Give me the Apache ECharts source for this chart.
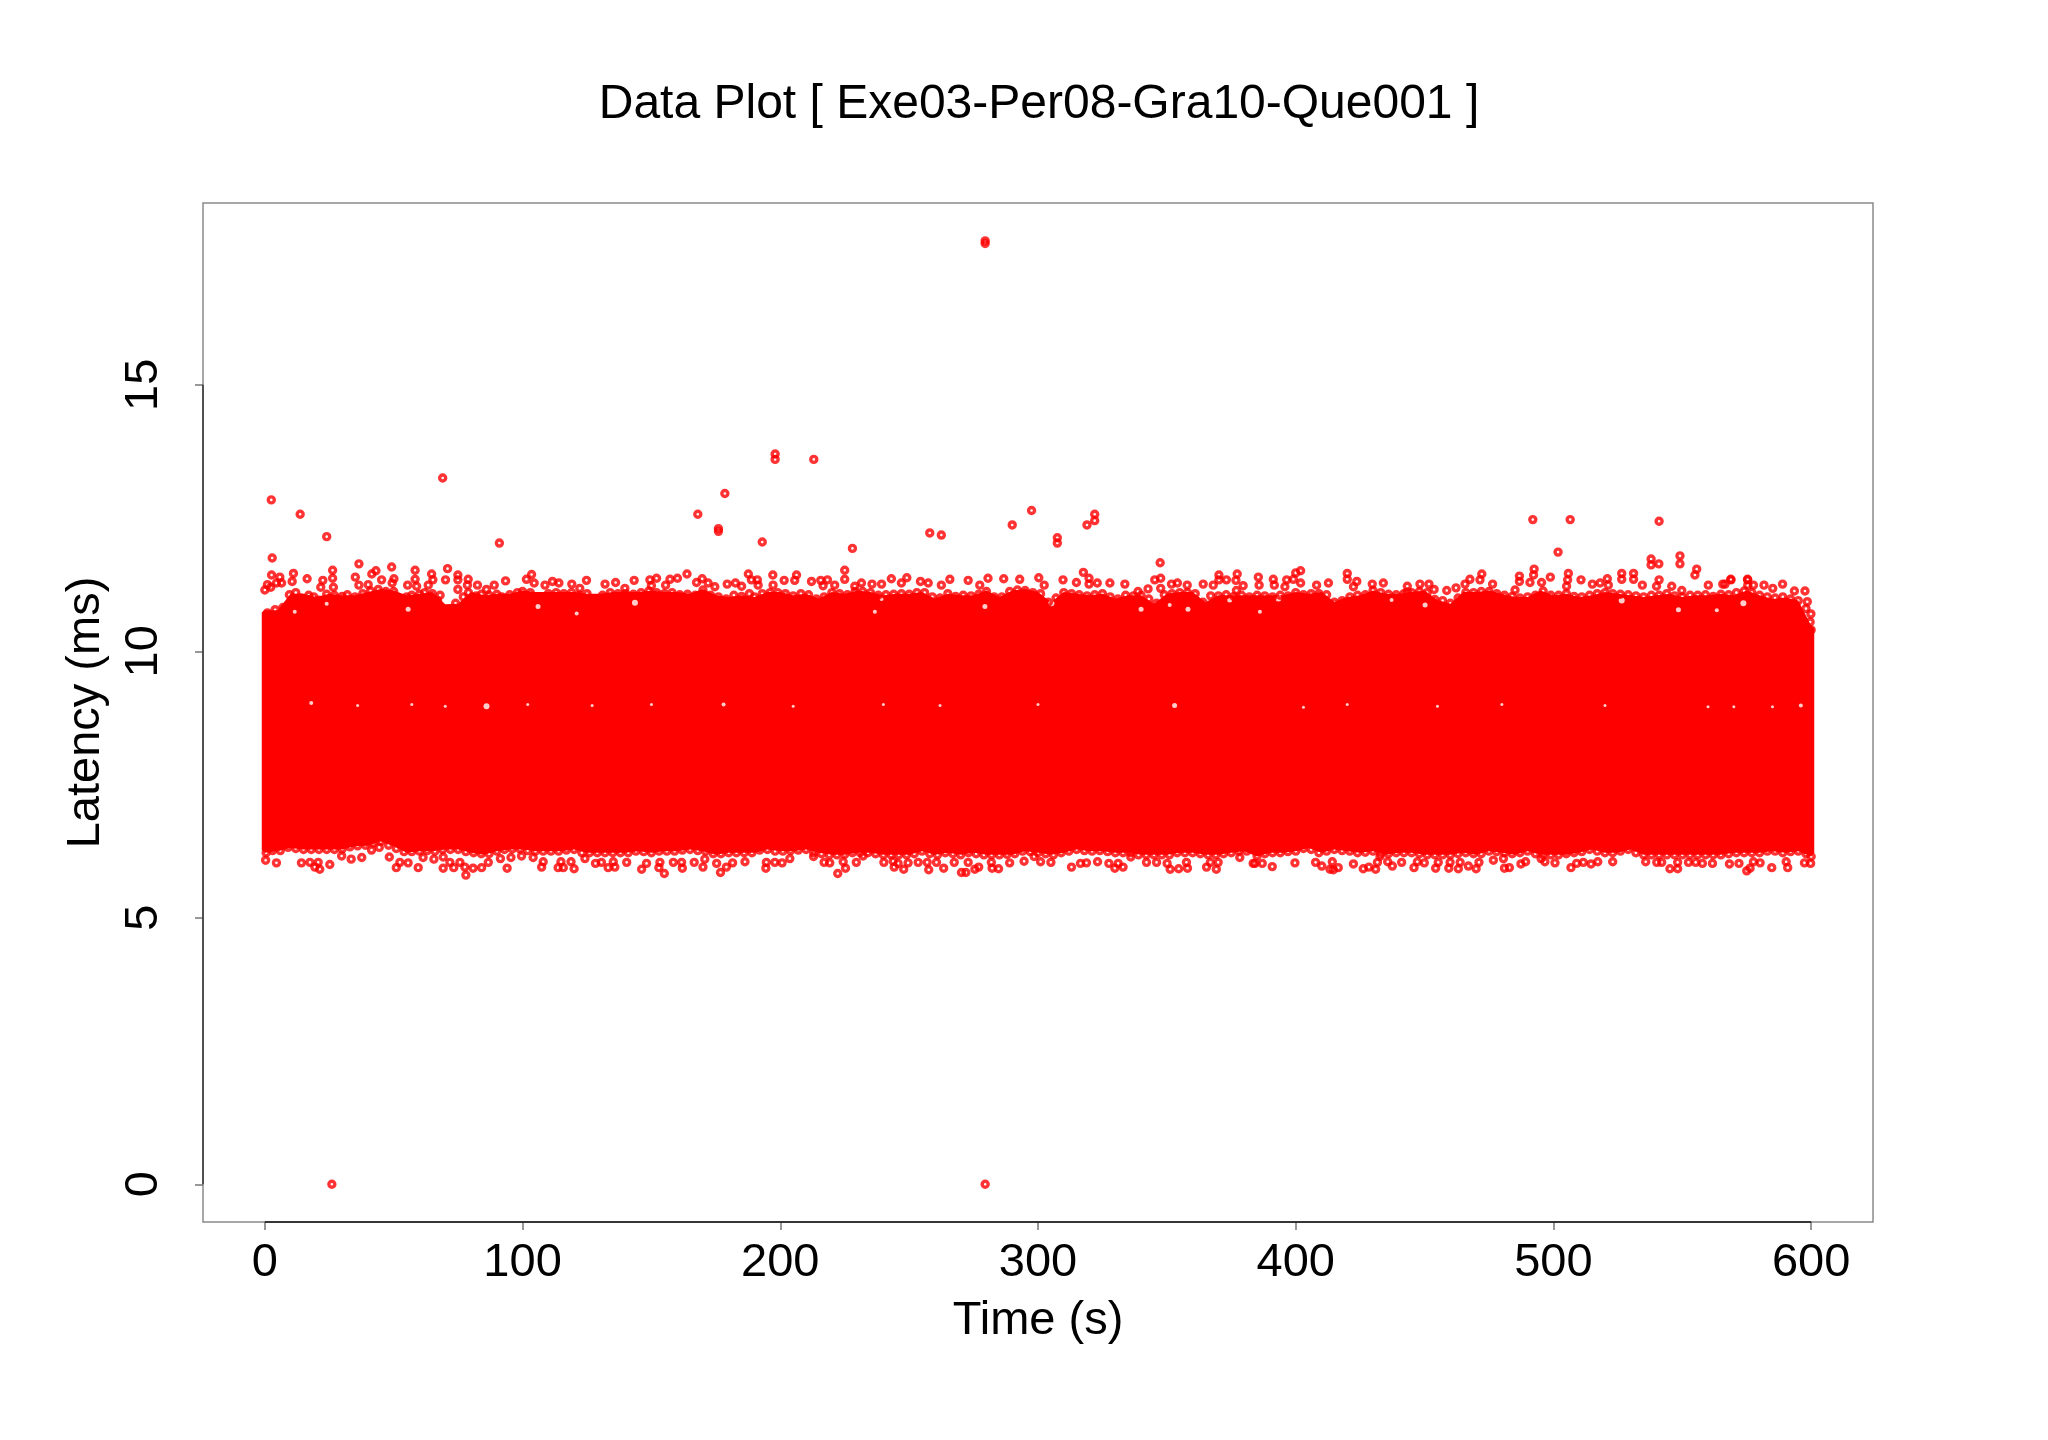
<!DOCTYPE html>
<html><head><meta charset="utf-8">
<style>html,body{margin:0;padding:0;background:#fff}#c{width:2048px;height:1440px}</style>
<script src="https://cdn.jsdelivr.net/npm/echarts@6/dist/echarts.min.js"></script>
</head><body><div id="c"></div>
<script>
const titleText = 'Data Plot [ Exe03-Per08-Gra10-Que001 ]';
const xName = 'Time (s)';
const yName = 'Latency (ms)';
const xTicks = [0,100,200,300,400,500,600];
const yTicks = [0,5,10,15];

// Outline of the solid red mass, read every 5 s
const bandTime = [-1.2,0,5,10,15,20,25,30,35,40,45,50,55,60,65,70,75,80,85,90,95,100,105,110,115,120,125,130,135,140,145,150,155,160,165,170,175,180,185,190,195,200,205,210,215,220,225,230,235,240,245,250,255,260,265,270,275,280,285,290,295,300,305,310,315,320,325,330,335,340,345,350,355,360,365,370,375,380,385,390,395,400,405,410,415,420,425,430,435,440,445,450,455,460,465,470,475,480,485,490,495,500,505,510,515,520,525,530,535,540,545,550,555,560,565,570,575,580,585,590,595,600,601.2];
const bandHigh = [10.8,10.84,10.84,11.15,11.15,11.09,11.15,11.12,11.12,11.18,11.24,11.21,11.12,11.15,11.18,10.95,10.96,11.18,11.12,11.15,11.15,11.21,11.18,11.18,11.18,11.18,11.15,11.15,11.18,11.18,11.18,11.21,11.18,11.18,11.15,11.24,11.12,11.09,11.12,
11.09,11.18,11.18,11.12,11.15,11.06,11.18,11.15,11.21,11.18,11.12,11.15,11.15,11.18,11.06,11.15,11.12,11.12,11.21,11.09,11.21,11.24,11.18,10.99,11.18,11.15,11.12,11.15,11.06,11.12,11.12,10.96,11.15,11.18,11.18,10.99,11.12,11.12,11.12,
11.12,11.12,11.12,11.18,11.15,11.18,11.0,11.09,11.12,11.21,11.15,11.15,11.18,11.21,11.03,10.96,11.18,11.18,11.21,11.15,11.09,11.09,11.21,11.12,11.15,11.09,11.12,11.18,11.15,11.12,11.09,11.12,11.15,11.09,11.12,11.12,11.15,11.12,11.21,11.12,11.05,11.08,11.02,10.55,10.5];
const bandLow = [6.2,6.15,6.18,6.24,6.21,6.21,6.21,6.21,6.27,6.28,6.36,6.27,6.15,6.18,6.18,6.21,6.21,6.15,6.11,6.18,6.21,6.21,6.18,6.18,6.18,6.21,6.15,6.15,6.15,6.15,6.18,6.15,6.18,6.18,6.21,6.18,6.11,6.15,6.15,
6.15,6.21,6.18,6.18,6.21,6.15,6.11,6.11,6.15,6.15,6.11,6.11,6.11,6.18,6.11,6.15,6.11,6.15,6.11,6.11,6.11,6.18,6.15,6.11,6.15,6.21,6.18,6.18,6.15,6.15,6.11,6.11,6.11,6.15,6.15,6.11,6.11,6.15,6.18,
6.08,6.15,6.15,6.18,6.24,6.15,6.21,6.18,6.15,6.18,6.11,6.15,6.15,6.11,6.11,6.11,6.15,6.11,6.18,6.15,6.11,6.18,6.11,6.11,6.11,6.15,6.21,6.15,6.15,6.21,6.11,6.11,6.11,6.11,6.11,6.11,6.11,6.15,6.15,6.15,6.18,6.15,6.18,6.08,6.15];
const bandInset = 0.07;

// Small white gaps left in the mass
const gapPoints = [[11.6,10.74],[24,10.89],[55.6,10.79],[106,10.84],[121,10.71],[143.6,10.91],[236.7,10.74],[239.3,10.98],[279.4,10.84],[305.2,10.9],[340,10.79],[351.1,10.87],[358.2,10.79],[374.4,10.96],[386.1,10.74],[393.3,10.99],[437.2,10.96],[450.2,10.87],[526.5,10.95],[548.5,10.78],[563.4,10.77],[573.7,10.9],
[18,9.03],[36,8.98],[57,9],[70,8.97],[86,8.97],[102,9],[127,8.98],[150,9],[178,9],[205,8.97],[240,9],[262,8.98],[300,9],[353,8.98],[403,8.95],[420,9],[455,8.97],[480,9],[520,8.98],[560,8.96],[570,8.96],[585,8.96],[596,8.98]];
const gapSizes = [4,4,5,5,4,6,4,4,5,6,5,4,5,5,4,6,4,5,6,5,4,6,
4,3,3,3,6,3,3,3,4,3,3,3,3,5,3,3,3,3,3,3,3,3,4];

const upperMassA = [[1,10.72],[4,10.78],[7,10.82],[9.5,11.06],[12,11.1],[14,11],[17,11.05],[19,11.02],[21,10.96],[24,11.07],[27,11.05],[30,11.03],[32,11.06],[35,11.02],[38,11.08],[41,11.13],[44,11.16],[47,11.12],[50,11.12],[52,10.95],[55,11.02],[57,11.05],[60,11.07],[62,11.1],[65,11.08],[68,11.05],[67,10.95],[74,10.9],[77,11.02],[79,11.1],[82,11.04],[84,11.07],[87,11.05],[90,11.07],[92,11.02],[95,11.06],[98,11.1],[100,11.12],[103,11.1],[107,10.97],[110,11.08],[113,11.1],[116,11.08],[119,11.1],[122,11.05],[125,11.08],[128,10.95],[131,11.05],[134,11.1],[137,11.08],[140,11.08],[143,11.07],[146,11.1],[149,11.13],[152,11.1],[155,11.08],[158,11.1],[161,11.06],[164,11.07],[167,11.05],[170,11.15],[173,11.05],[176,11.02],[179,10.98],[182,11.05],[185,11.03],[188,11.08]];
const upperMassB = [[190,11.02],[193,11.08],[196,11.1],[199,11.1],[202,11.08],[205,11.04],[208,11.08],[211,11.06],[214,10.98],[217,11.02],[220,11.1],[223,11.08],[226,11.06],[229,11.12],[232,11.12],[235,11.1],[238,11.05],[241,11.06],[244,11.07],[247,11.08],[250,11.07],[253,11.1],[256,11.1],[259,11.02],[262,11],[265,11.08],[268,11.03],[271,11.05],[274,11.04],[277,11.07],[280,11.12],[283,11.02],[286,11.02],[289,11.12],[292,11.15],[295,11.14],[298,11.1],[301,11.08],[304,10.92],[307,11],[310,11.1],[313,11.08],[316,11.06],[319,11.04],[322,11.06],[325,11.08],[328,11.02],[331,10.98],[334,11.05],[337,11.04],[340,11.05],[343,10.98],[346,10.9],[349,11.06],[352,11.08],[355,11.1],[358,11.1],[361,11.08],[364,10.92],[367,11.04],[370,11.04],[373,11.06],[376,11.03],[379,11.05],[382,11.02]];
const upperMassC = [[385,11.05],[388,11.04],[391,11.02],[394,11.05],[397,11.04],[400,11.1],[403,11.06],[406,11.08],[409,11.08],[412,11.06],[415,10.92],[418,10.95],[421,11.02],[424,11.05],[427,11.06],[430,11.14],[433,11.1],[436,11.07],[439,11.06],[442,11.08],[445,11.1],[448,11.12],[451,11.1],[454,10.97],[457,10.95],[460,10.9],[463,11],[466,11.1],[469,11.1],[472,11.12],[475,11.12],[478,11.08],[481,11.05],[484,11.03],[487,11],[490,11.02],[493,11.05],[496,11.13],[499,11.05],[502,11.05],[505,11.08],[508,11.03],[511,11.02],[514,11.05],[517,11.08],[520,11.1],[523,11.08],[526,11.07],[529,11.06],[532,11.04],[535,11.02],[538,11.05],[541,11.05],[544,11.08],[547,11.04],[550,11.02],[553,11.05],[556,11.05],[559,11.06],[562,11.03],[565,11.07],[568,11.06],[571,11.1],[574,11.13],[577,11.1],[580,11.05],[583,11.02],[586,11],[589,11.02],[592,10.98],[595,10.95],[598,10.8],[599.9,10.7],[600,10.4]];
const lowerMassA = [[0.5,6.22],[3,6.26],[6,6.26],[9,6.32],[12,6.3],[15,6.28],[18,6.28],[21,6.28],[24,6.28],[27,6.28],[30,6.29],[33,6.33],[36,6.35],[39,6.36],[42,6.4],[45,6.43],[48,6.36],[51,6.3],[54,6.24],[57,6.24],[60,6.25],[63,6.26],[66,6.25],[69,6.28],[72,6.28],[75,6.28],[78,6.24],[81,6.22],[84,6.2],[87,6.2],[90,6.25],[93,6.28],[96,6.29],[99,6.29],[102,6.26],[105,6.25],[108,6.25],[111,6.25],[114,6.25],[117,6.27],[120,6.28],[123,6.22],[126,6.22],[129,6.22],[132,6.22],[135,6.22],[138,6.22],[141,6.22],[144,6.25],[147,6.24],[150,6.22],[153,6.25],[156,6.25],[159,6.25],[162,6.27],[165,6.28],[168,6.26],[171,6.25],[174,6.2],[177,6.2],[180,6.22],[183,6.22],[186,6.22],[189,6.22]];
const lowerMassB = [[192,6.27],[195,6.28],[198,6.25],[201,6.25],[204,6.26],[207,6.27],[210,6.28],[213,6.22],[216,6.2],[219,6.18],[222,6.18],[225,6.19],[228,6.22],[231,6.22],[234,6.22],[237,6.2],[240,6.18],[243,6.18],[246,6.18],[249,6.18],[252,6.2],[255,6.25],[258,6.2],[261,6.18],[264,6.22],[267,6.2],[270,6.18],[273,6.22],[276,6.2],[279,6.18],[282,6.18],[285,6.18],[288,6.19],[291,6.2],[294,6.25],[297,6.24],[300,6.22],[303,6.2],[306,6.18],[309,6.22],[312,6.25],[315,6.28],[318,6.26],[321,6.25],[324,6.26],[327,6.24],[330,6.22],[333,6.22],[336,6.22],[339,6.18],[342,6.18],[345,6.18],[348,6.18],[351,6.18],[354,6.22],[357,6.22],[360,6.22],[363,6.2],[366,6.18],[369,6.18],[372,6.2],[375,6.22],[378,6.25],[381,6.25]];
const lowerMassC = [[385,6.16],[388,6.2],[391,6.22],[394,6.22],[397,6.24],[400,6.25],[403,6.3],[406,6.28],[409,6.22],[412,6.25],[415,6.28],[418,6.26],[421,6.25],[424,6.22],[427,6.23],[430,6.25],[433,6.2],[436,6.2],[439,6.22],[442,6.22],[445,6.22],[448,6.2],[451,6.18],[454,6.18],[457,6.18],[460,6.18],[463,6.2],[466,6.22],[469,6.2],[472,6.2],[475,6.25],[478,6.24],[481,6.22],[484,6.2],[487,6.22],[490,6.25],[493,6.2],[496,6.18],[499,6.18],[502,6.18],[505,6.2],[508,6.22],[511,6.24],[514,6.28],[517,6.25],[520,6.22],[523,6.22],[526,6.25],[529,6.28],[532,6.22],[535,6.18],[538,6.18],[541,6.18],[544,6.18],[547,6.18],[550,6.18],[553,6.18],[556,6.18],[559,6.18],[562,6.18],[565,6.18],[568,6.2],[571,6.22],[574,6.22],[577,6.22],[580,6.22],[583,6.25],[586,6.25],[589,6.22],[592,6.24],[595,6.25],[598,6.2],[600,6.15]];

const topEdgeA = [[2.85,11.75],[2.6,11.43],[5.8,11.39],[1,11.25],[0,11.15],[2.3,11.2],[4.5,11.28],[6.5,11.28],[11.1,11.46],[10.6,11.31],[16.4,11.36],[22.5,11.33],[21.7,11.2],[26.3,11.52],[26.3,11.37],[26.6,11.2],[36.5,11.64],[35.1,11.39],[36.5,11.24],[40.1,11.25],[41.5,11.45],[43.1,11.51],[45.3,11.34],[49.2,11.58],[50.1,11.36],[49.4,11.28],[55.4,11.24],[58.3,11.52],[58.3,11.35],[58.9,11.22],[64.7,11.45],[65.2,11.34],[63.4,11.24],[70.9,11.55],[70.1,11.34],[74.9,11.43],[74.9,11.34],[74.9,11.16],[78.9,11.35],[78.6,11.24],[82.5,11.24],[89,11.24],[93.4,11.32],[86,11.16],[101.5,11.35],[103.5,11.44],[104.5,11.28],[108.7,11.24],[111.6,11.31],[114.1,11.28],[119.1,11.26],[124.8,11.33],[122.2,11.18],[132,11.26],[136.1,11.29],[143.3,11.33],[139.7,11.18],[149.4,11.34],[152,11.37],[150,11.23],[157.2,11.35],[160.1,11.37],[155.5,11.24],[163.8,11.45],[167.5,11.29],[169.7,11.36],[172,11.28],[174.6,11.21],[179.4,11.26],[182.6,11.28],[185,11.22],[187.6,11.45],[188.8,11.34]];
const topEdgeB = [[191.1,11.34],[191.4,11.24],[197.1,11.43],[197.2,11.24],[201.5,11.33],[206.3,11.43],[205.6,11.33],[212.1,11.31],[215.7,11.33],[218.3,11.34],[216.6,11.23],[221.1,11.24],[225,11.52],[225,11.35],[228.9,11.22],[231.5,11.28],[235.6,11.26],[239.3,11.26],[243.1,11.36],[247,11.28],[249.1,11.38],[254.4,11.31],[257.4,11.28],[265.8,11.35],[262.5,11.24],[272.9,11.33],[277.4,11.24],[280.6,11.37],[286.7,11.36],[292.9,11.35],[300.3,11.38],[302.4,11.24],[309.7,11.34],[314.9,11.29],[317.6,11.48],[319.8,11.37],[319.8,11.26],[323,11.28],[327.9,11.28],[333.7,11.26],[338.8,11.12],[342.7,11.17],[345.3,11.34],[347.6,11.37],[347.4,11.66],[347.6,11.18],[351.8,11.26],[354.1,11.28],[357.9,11.24],[364.1,11.26],[368,11.24],[370.2,11.43],[370.2,11.34],[373.1,11.34],[377.3,11.45],[376.8,11.33],[379.6,11.23],[377,11.14]];
const topEdgeC = [[385.5,11.39],[385.8,11.24],[391.3,11.35],[391.7,11.24],[396.5,11.34],[395.8,11.21],[400,11.47],[401.9,11.51],[399.1,11.35],[401.9,11.28],[408.1,11.24],[412.7,11.28],[420,11.46],[420,11.35],[423.7,11.31],[422.4,11.21],[429.7,11.26],[434,11.28],[443.3,11.22],[443.3,11.11],[448.2,11.26],[451.7,11.26],[453.7,11.16],[458.6,11.14],[462.2,11.19],[465.7,11.26],[467.6,11.35],[472.2,11.45],[471.5,11.34],[476.4,11.26],[485.1,11.15],[486.8,11.41],[486.8,11.31],[492.5,11.54],[492.3,11.43],[490.9,11.29],[498.8,11.39],[495.4,11.29],[505.8,11.46],[505.5,11.34],[505.1,11.22],[510.7,11.34],[515.1,11.26],[518.1,11.28],[520.9,11.36],[521.3,11.24],[526.5,11.46],[526.5,11.35],[531.1,11.46],[531.1,11.35],[534.5,11.24],[541,11.34],[540,11.22],[545.9,11.22],[549.8,11.14],[554.9,11.43],[555.6,11.54],[537.9,11.73],[537.9,11.62],[540.9,11.64],[549.1,11.79],[549.1,11.64],[501.8,11.86],[560.1,11.24],[566.6,11.26],[568.9,11.34],[575.4,11.34],[575.4,11.24],[568.8,11.35],[575.3,11.35],[565.7,11.26],[577.6,11.24],[581.7,11.24],[585.1,11.18],[588.9,11.26],[593.5,11.13],[597.6,11.13],[598.5,10.93],[599.6,10.55]];
const bottomEdgeA = [[1,6.86],[0.3,6.08],[4.5,6.03],[14.2,6.03],[17.5,6.04],[20.7,6.04],[19.4,5.95],[21.3,5.91],[25.2,6],[29.8,6.16],[33.5,6.1],[37.6,6.13],[41.4,6.27],[44.4,6.32],[48.3,6.14],[52.4,6.04],[51,5.94],[55.6,6.03],[59.5,5.94],[61.4,6.13],[65.6,6.1],[69.2,5.93],[69.2,6.14],[71.8,6.04],[73.3,5.94],[75.7,6.04],[78,5.8],[77.6,5.95],[80.8,5.93],[84.1,5.94],[86.7,6.04],[91.4,6.11],[94,5.93],[95.5,6.13],[99.6,6.16],[104.1,6.13],[107.4,5.95],[108,6.05],[113.8,5.94],[115.8,5.94],[114.9,6.05],[120,5.92],[118.8,6.05],[124.2,6.11],[128.3,6.02],[130.6,6.04],[133.2,5.94],[135.8,5.95],[135.2,6.05],[140.4,6.04],[146.2,5.91],[148.1,6.02],[153.3,6.04],[152.9,5.94],[155,5.83],[158.5,6.04],[162,5.93],[161.7,6.04],[166.6,6.04],[170,5.95],[170.7,6.1],[175.3,6.02],[176.8,5.85],[179.1,5.95],[181.5,6.03],[186.3,6.05]];
const bottomEdgeB = [[194.4,5.93],[194.6,6.04],[197.9,6.04],[200.7,6.03],[203.7,6.11],[212.9,6.15],[217,6.04],[219.2,6.03],[222.3,5.83],[225.3,5.93],[224.4,6.05],[229.5,6.04],[232.1,6.16],[240.2,6.04],[244.2,5.95],[243.8,6.06],[245.7,6.02],[247.9,5.91],[249.6,6.03],[253.5,6.04],[257,6.04],[257.6,5.9],[260.6,6.04],[263.4,5.93],[267.5,6.04],[270.3,5.85],[272,5.85],[272.9,6.04],[275.5,5.91],[277,5.95],[281.9,6.04],[282.2,5.93],[284.7,5.92],[289,6.03],[294.6,6.06],[298.5,6.15],[301,6.05],[305,6.04],[313,5.95],[316.5,6.02],[318.8,6.03],[323.1,6.05],[327.5,6.02],[329.8,5.93],[333,5.95],[331.1,6.02],[336,6.14],[342.1,6.04],[346,6.04],[350.1,6.02],[351.3,5.91],[354.6,5.92],[358,5.93],[357.6,6.04],[365.4,5.95],[366.9,6.04],[369.2,5.91],[369.9,6.04],[378.3,6.13],[383.5,6.02]];
const bottomEdgeC = [[384.2,6.02],[387,6.02],[390.9,5.96],[399.7,6.03],[407.7,6.04],[410.1,5.97],[413.3,5.91],[414.2,6.05],[414.6,5.9],[416.5,5.94],[422.4,6.01],[426.2,5.92],[428.4,5.95],[431,5.91],[431.7,6.04],[432.7,6.15],[435.7,6.05],[437.5,5.97],[441.1,6.04],[445.9,5.94],[447.2,6.05],[449.9,6.03],[454.3,5.93],[455.3,6.04],[459.4,5.93],[459.9,6.04],[463.1,5.92],[463.8,6.04],[467,5.97],[470,5.92],[471.1,6.04],[476.7,6.08],[481,5.93],[482.9,5.94],[480.6,6.11],[487.4,6.01],[489.2,6.05],[495.2,6.11],[496.7,6.05],[500.6,6.03],[506.8,5.94],[509,6.02],[511.6,6.04],[514.6,6.01],[517.2,6.05],[523,6.05],[535.8,6.05],[540.1,6.04],[542,6.04],[545.2,5.92],[548.2,5.92],[548.2,6.04],[552.4,6.04],[555.2,6.04],[557.8,6.02],[561.7,6.02],[568.3,6.01],[572,6.02],[575,5.88],[576.3,5.93],[577.6,6.05],[580.2,6.03],[584.7,5.94],[590.9,5.94],[590.3,6.05],[597.4,6.03],[599.8,6.02]];
const outliers = [[2.5,12.84],[13.7,12.57],[24,12.15],[69,13.25],[91,12.03],[168,12.57],[176,12.3],[176,12.25],[178.5,12.96],[193,12.05],[198,13.7],[198,13.6],[213,13.6],[228,11.93],[258,12.22],[262.5,12.18],[279.5,17.7],[279.5,17.65],[290,12.37],[297.5,12.64],[307.5,12.13],[307.5,12.03],[319,12.37],[322,12.57],[322,12.45],[492,12.47],[506.5,12.47],[541,12.44],[26,0],[279.5,0]];

const massPoints = [].concat(upperMassA, upperMassB, upperMassC, lowerMassA, lowerMassB, lowerMassC);
const edgePoints = [].concat(topEdgeA, topEdgeB, topEdgeC, bottomEdgeA, bottomEdgeB, bottomEdgeC);
const font = 'Liberation Sans';
const ringStyle = {color:'rgba(255,255,255,0)',borderColor:'#ff0000',borderWidth:3.4};

const chart = echarts.init(document.getElementById('c'), null, {renderer:'canvas'});
chart.setOption({
  animation:false,
  backgroundColor:'#fff',
  title:{text:titleText,left:1034,top:76,textAlign:'center',textStyle:{fontFamily:font,fontSize:48,fontWeight:'normal',color:'#000'}},
  grid:{left:203,top:203,width:1670,height:1019,show:true,borderColor:'#8a8a8a',borderWidth:1.5,backgroundColor:'#fff'},
  xAxis:{type:'value',min:-24,max:624,name:xName,nameLocation:'middle',nameGap:76,
    nameTextStyle:{fontFamily:font,fontSize:47,color:'#000'},
    axisLine:{show:false,onZero:false},splitLine:{show:false},
    axisTick:{show:true,length:8,customValues:xTicks,lineStyle:{color:'#777',width:1.5}},
    axisLabel:{customValues:xTicks,fontFamily:font,fontSize:47,color:'#000',margin:18,showMinLabel:true,showMaxLabel:true}},
  yAxis:{type:'value',min:-0.708,max:18.41,name:yName,nameLocation:'middle',nameGap:93,
    nameTextStyle:{fontFamily:font,fontSize:47,color:'#000'},
    axisLine:{show:false,onZero:false},splitLine:{show:false},
    axisTick:{show:true,length:8,customValues:yTicks,lineStyle:{color:'#777',width:1.5}},
    axisLabel:{customValues:yTicks,rotate:90,fontFamily:font,fontSize:47,color:'#000',margin:35,showMinLabel:true,showMaxLabel:true}},
  series:[
    {type:'line',silent:true,clip:false,symbol:'none',z:5,data:[[-24,0],[-24,15]],lineStyle:{color:'#333',width:1.5}},
    {type:'line',silent:true,clip:false,symbol:'none',z:5,data:[[0,-0.708],[600,-0.708]],lineStyle:{color:'#111',width:1.5}},
    {type:'custom',silent:true,z:2,data:bandTime.map((t,i)=>[t,bandLow[i],bandHigh[i]]),encode:{x:0,y:[1,2]},
      renderItem:function(params,api){
        if(params.dataIndex!==0) return;
        const upper=bandTime.map((t,i)=>api.coord([t,bandHigh[i]-bandInset]));
        const lower=bandTime.map((t,i)=>api.coord([t,bandLow[i]+bandInset])).reverse();
        return {type:'polygon',shape:{points:upper.concat(lower)},style:{fill:'#ff0000'}};
      }},
    {type:'scatter',z:3,symbol:'circle',data:gapPoints,symbolSize:(v,p)=>gapSizes[p.dataIndex],itemStyle:{color:'#fff'},silent:true},
    {type:'scatter',z:4,symbol:'circle',data:massPoints,symbolSize:6,itemStyle:ringStyle,silent:true},
    {type:'scatter',z:4,symbol:'circle',data:edgePoints,symbolSize:6,itemStyle:ringStyle,silent:true},
    {type:'scatter',z:4,symbol:'circle',data:outliers,symbolSize:6,itemStyle:ringStyle,silent:true}
  ]
});
</script></body></html>
